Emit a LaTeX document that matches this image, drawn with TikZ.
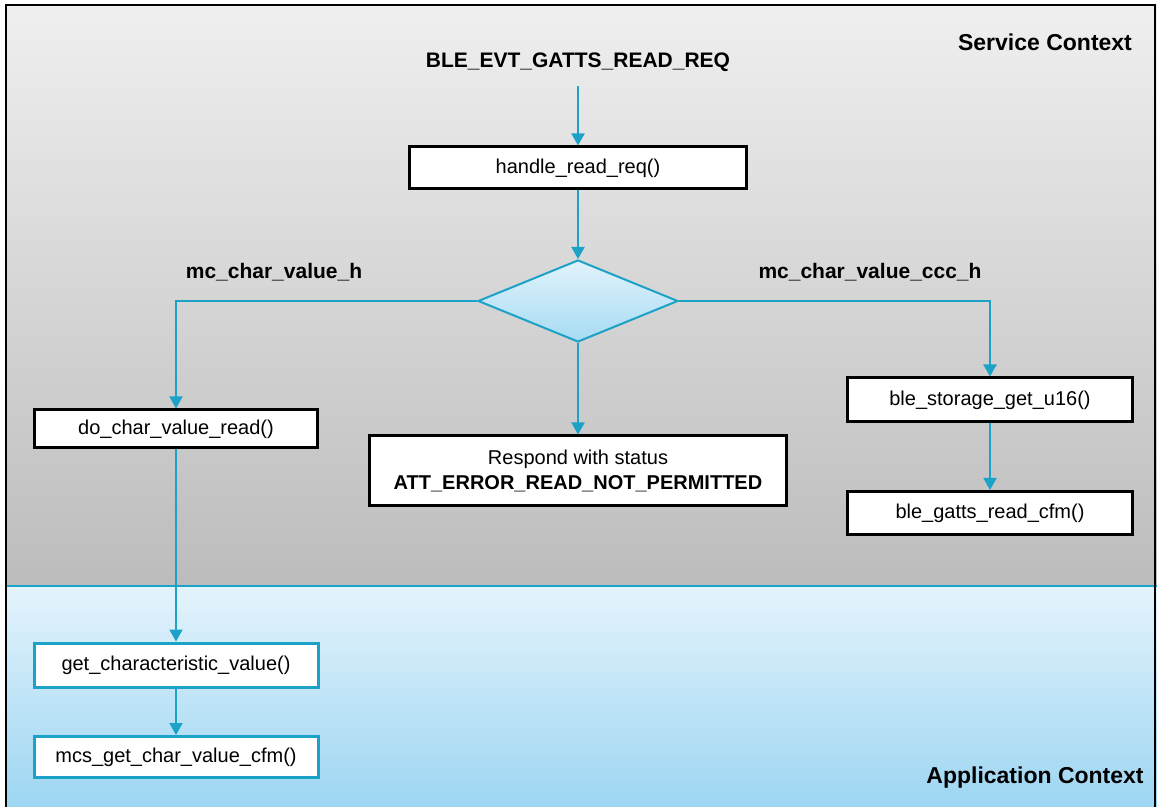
\documentclass[tikz,border=0pt]{standalone}
\usepackage{fontspec}
\setmainfont{Liberation Sans}
\usetikzlibrary{shapes.geometric,arrows.meta}
\definecolor{flowblue}{HTML}{1CA2C6}
\definecolor{srvtop}{HTML}{EFEFEF}
\definecolor{srvbot}{HTML}{BCBCBC}
\definecolor{apptop}{HTML}{E4F3FC}
\definecolor{appbot}{HTML}{9DD6F2}
\definecolor{dtop}{HTML}{E2F3FC}
\definecolor{dbot}{HTML}{A6DBF3}
\begin{document}
\begin{tikzpicture}[x=0.5pt,y=-0.5pt,
        flow/.style={draw=flowblue, line width=1pt, -{Triangle[length=6pt,width=6.5pt]}},
        callbox/.style={draw=black, line width=1.5pt, fill=white, inner sep=0pt,
            font=\fontsize{10}{12.5}\selectfont},
        appbox/.style={callbox, draw=flowblue},
        tag/.style={font=\fontsize{10.5}{12}\selectfont\bfseries},
        ctx/.style={font=\fontsize{11.5}{13}\selectfont\bfseries}]
        \useasboundingbox (0,0) rectangle (1157,807);
        % the two contexts
        \shade[top color=srvtop, bottom color=srvbot] (6,5) rectangle (1157,586);
        \shade[top color=apptop, bottom color=appbot] (6,586) rectangle (1157,807);
        \draw[flowblue, line width=1pt] (6,586) -- (1157,586);
        \draw[black, line width=1.2pt] (6,807) -- (6,5) -- (1155,5) -- (1155,807);
        \node[ctx] (srv) at (1045,42) {Service Context};
        \node[ctx] (app) at (1035,778) {Application Context};
        % service side
        \node[tag] (evt) at (578,62) {BLE\_EVT\_GATTS\_READ\_REQ};
        \node[callbox, minimum width=168.5pt, minimum height=21pt] (hrr) at (578,168) {handle\_read\_req()};
        \node[diamond, draw=flowblue, line width=1pt, top color=dtop, bottom color=dbot,
            minimum width=100pt, minimum height=41pt, inner sep=0pt] (chk) at (578,301) {};
        \node[tag] (lblh) at (274,272) {mc\_char\_value\_h};
        \node[tag] (lblccc) at (870,272) {mc\_char\_value\_ccc\_h};
        \node[callbox, minimum width=141.5pt, minimum height=19pt] (dcvr) at (176,429) {do\_char\_value\_read()};
        \node[callbox, minimum width=208.5pt, minimum height=35pt, align=center] (resp) at (578,471)
            {Respond with status\\\textbf{ATT\_ERROR\_READ\_NOT\_PERMITTED}};
        \node[callbox, minimum width=142.5pt, minimum height=22pt] (bsg) at (990,400) {ble\_storage\_get\_u16()};
        \node[callbox, minimum width=142.5pt, minimum height=21.5pt] (brc) at (990,513) {ble\_gatts\_read\_cfm()};
        % application side
        \node[appbox, minimum width=142pt, minimum height=22pt] (gcv) at (176,665) {get\_characteristic\_value()};
        \node[appbox, minimum width=142pt, minimum height=20.5pt] (mgc) at (176,757) {mcs\_get\_char\_value\_cfm()};
        % connectors
        \draw[flow, shorten <=4pt] (evt) -- (hrr);
        \draw[flow] (hrr) -- (chk);
        \draw[flow] (chk.west) -| (dcvr.north);
        \draw[flow] (chk.east) -| (bsg.north);
        \draw[flow] (chk.south) -- (resp.north);
        \draw[flow] (bsg) -- (brc);
        \draw[flow] (dcvr) -- (gcv);
        \draw[flow] (gcv) -- (mgc);
        %\node at (578,301) {?};
\end{tikzpicture}
\end{document}
